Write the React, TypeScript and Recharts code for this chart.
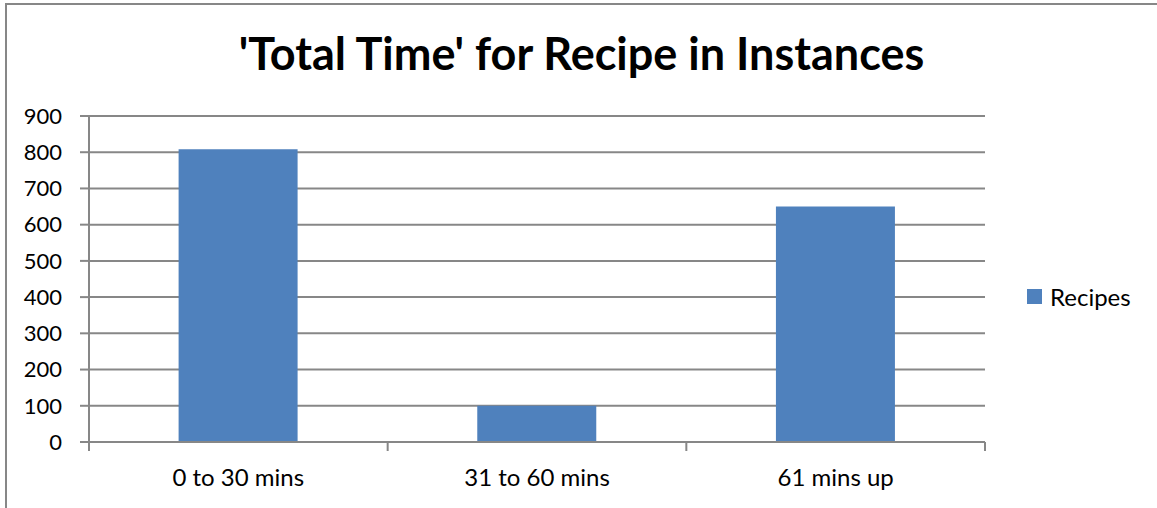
import { Bar, BarChart, CartesianGrid, Legend, XAxis, YAxis } from "recharts"

const categories = ["0 to 30 mins", "31 to 60 mins", "61 mins up"]
const recipes = [808, 100, 650]
const yTicks = [0, 100, 200, 300, 400, 500, 600, 700, 800, 900]

const data = categories.map((name, i) => ({ name, recipes: recipes[i] }))

const W = 1157
const H = 508
const PLOT_LEFT = 89
const PLOT_RIGHT = 985
const LEGEND_W = 130
const BAND = (PLOT_RIGHT - PLOT_LEFT) / categories.length
const TICK = 9
const TICK_GAP = 18
const AXIS = "#878787"
const FONT = "Lato, 'Open Sans', sans-serif"

// category label in the middle of the band, tick marks on the band edges
function CategoryTick(props: any) {
  const { x, y, payload, index } = props
  const axisY = y - TICK - TICK_GAP
  const lines = [x - BAND / 2]
  if (index === categories.length - 1) lines.push(x + BAND / 2)
  return (
    <g>
      {lines.map((lx) => (
        <line key={lx} x1={lx} x2={lx} y1={axisY} y2={axisY + TICK} stroke={AXIS} strokeWidth={2} />
      ))}
      <text x={x} y={y} dy="0.71em" textAnchor="middle" fill="#000" fontSize={24} fontFamily={FONT}>
        {payload.value}
      </text>
    </g>
  )
}

function LegendBox() {
  return (
    <div style={{ display: "flex", alignItems: "center", fontFamily: FONT, fontSize: 24, color: "#000" }}>
      <span style={{ width: 15, height: 15, background: "#4F81BD", marginRight: 8, display: "inline-block" }} />
      Recipes
    </div>
  )
}

export default function App() {
  return (
    <div style={{ position: "absolute", left: 0, top: 0, width: W, height: H, overflow: "hidden", background: "#fff" }}>
      <div
        style={{
          position: "absolute",
          left: 5,
          top: 3,
          width: W + 20,
          height: H + 20,
          borderTop: `2px solid ${AXIS}`,
          borderLeft: `2px solid ${AXIS}`,
        }}
      />
      <div
        style={{
          position: "absolute",
          left: 0,
          top: 26,
          width: W + 6,
          textAlign: "center",
          fontFamily: FONT,
          fontWeight: 700,
          fontSize: 45,
          color: "#000",
        }}
      >
        'Total Time' for Recipe in Instances
      </div>
      <BarChart
        width={W}
        height={H}
        data={data}
        margin={{ top: 116, right: W - PLOT_RIGHT - LEGEND_W, bottom: 0, left: 0 }}
        barCategoryGap="30%"
      >
        <CartesianGrid vertical={false} stroke={AXIS} strokeWidth={2} />
        <XAxis
          dataKey="name"
          height={66}
          stroke={AXIS}
          strokeWidth={2}
          tickLine={false}
          tickSize={TICK}
          tickMargin={TICK_GAP}
          tick={<CategoryTick />}
          interval={0}
        />
        <YAxis
          width={PLOT_LEFT}
          domain={[0, 900]}
          ticks={yTicks}
          stroke={AXIS}
          strokeWidth={2}
          tickSize={TICK}
          tickMargin={TICK_GAP}
          tick={{ fill: "#000", fontSize: 22, fontFamily: FONT }}
          tickLine={{ stroke: AXIS, strokeWidth: 2 }}
        />
        <Legend
          content={() => <LegendBox />}
          layout="vertical"
          align="right"
          verticalAlign="middle"
          wrapperStyle={{ left: 1027, top: 282, width: LEGEND_W }}
        />
        <Bar dataKey="recipes" name="Recipes" fill="#4F81BD" isAnimationActive={false} />
      </BarChart>
    </div>
  )
}
